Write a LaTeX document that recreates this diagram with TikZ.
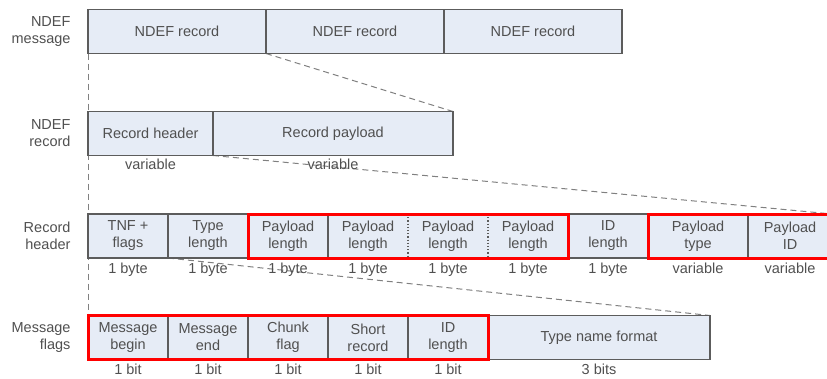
\documentclass[tikz,border=0pt]{standalone}
\usepackage{fontspec}
\setmainfont{Liberation Sans}
\usetikzlibrary{backgrounds}
\definecolor{cellfill}{HTML}{E6ECF6}
\definecolor{cellline}{HTML}{5C5C5C}
\definecolor{txt}{HTML}{505050}
\definecolor{guidegray}{HTML}{808080}
\definecolor{hired}{HTML}{FF0000}

\begin{document}
\begin{tikzpicture}[
    x=1bp, y=-1bp,
    font=\fontsize{14.5bp}{17bp}\selectfont,
    cell/.style={rectangle, draw=cellline, fill=cellfill, line width=1.2bp,
                 minimum height=44bp, inner sep=0pt, outer sep=0pt,
                 anchor=west, align=center, text=txt},
    bare/.style={cell, draw=none},
    side/.style={anchor=east, align=right, text=txt},
    size/.style={text=txt, inner sep=0pt, text height=10.5bp, text depth=3bp},
    frame/.style={draw=cellline, line width=1.2bp},
    sep/.style={draw=cellline, line width=1.2bp, dotted},
    guide/.style={draw=guidegray, line width=1bp, dash pattern=on 6bp off 4bp},
    hilite/.style={draw=hired, line width=3bp},
]
\useasboundingbox (0,0) rectangle (827,378);

% ---- row labels ----
\node[side] (lmsg) at (74,31.5)  {NDEF\\message};
\node[side] (lrec) at (74,133.5) {NDEF\\record};
\node[side] (lhdr) at (74,236)   {Record\\header};
\node[side] (lflg) at (74,337.5) {Message\\flags};

% ---- NDEF message ----
\foreach \i/\x in {A/88,B/266,C/444} {
    \node[cell, minimum width=178bp] (rec\i) at (\x,31.5) {NDEF record};
}

% ---- NDEF record ----
\node[cell, minimum width=125bp] (hdr) at (88,133.5)  {Record header};
\node[cell, minimum width=240bp] (pay) at (213,133.5) {Record payload};
\path (hdr.south) ++(0,10) node[size] (hdrsz) {variable};
\path (pay.south) ++(0,10) node[size] (paysz) {variable};

% ---- record header ----
\foreach \n/\x/\w/\s/\t/\z in {
    tnf/88/80/cell/{TNF +\\flags}/1 byte,
    tlen/168/80/cell/{Type\\length}/1 byte,
    plA/248/80/cell/{Payload\\length}/1 byte,
    plB/328/80/bare/{Payload\\length}/1 byte,
    plC/408/80/bare/{Payload\\length}/1 byte,
    plD/488/80/bare/{Payload\\length}/1 byte,
    idlen/568/80/cell/{ID\\length}/1 byte,
    ptype/648/100/cell/{Payload\\type}/variable,
    pid/748/84/cell/{Payload\\ID}/variable} {
    \node[\s, minimum width=\w bp] (\n) at (\x,236) {\t};
    \path (\n.south) ++(0,12) node[size] (\n sz) {\z};
}
\draw[frame] (plB.north west) rectangle (plD.south east);
\draw[sep] (plC.north west) -- (plC.south west);
\draw[sep] (plD.north west) -- (plD.south west);

% ---- message flags ----
\foreach \n/\x/\w/\t/\z in {
    mb/88/80/{Message\\begin}/1 bit,
    me/168/80/{Message\\end}/1 bit,
    cf/248/80/{Chunk\\flag}/1 bit,
    sr/328/80/{Short\\record}/1 bit,
    il/408/80/{ID\\length}/1 bit,
    tnfmt/488/222/{Type name format}/3 bits} {
    \node[cell, minimum width=\w bp] (\n) at (\x,337.5) {\t};
    \path (\n.south) ++(0,11) node[size] (\n sz) {\z};
}

% ---- highlighted groups ----
\draw[hilite] (plA.north west) rectangle (plD.south east);
\draw[hilite] (ptype.north west) rectangle ([xshift=6bp]pid.south east);
\draw[hilite] (mb.north west) rectangle (il.south east);

% ---- zoom guides ----
\begin{scope}[on background layer]
    \draw[guide] (recA.south west) -- (mb.north west);
    \draw[guide] (recB.south west) -- (pay.north east);
    \draw[guide] (hdr.south east) -- (pid.north east);
    \draw[guide] (tnf.south east) -- (tnfmt.north east);
\end{scope}
\end{tikzpicture}
\end{document}
